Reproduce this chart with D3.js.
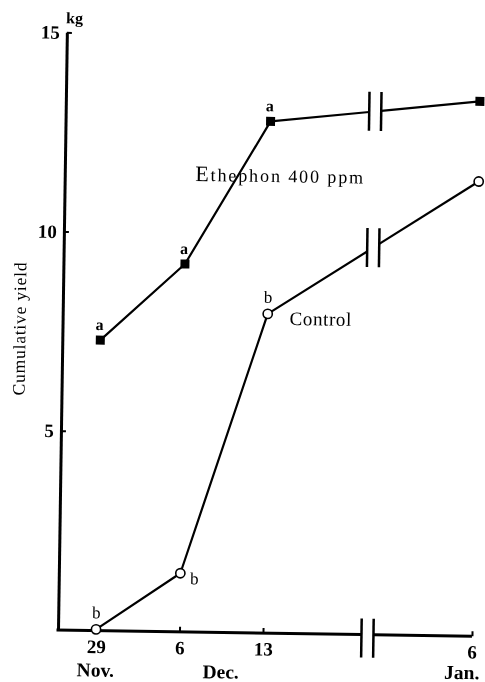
<!DOCTYPE html>
<html>
<head>
<meta charset="utf-8">
<script src="https://cdn.jsdelivr.net/npm/d3@7"></script>
<style>
  html, body { margin: 0; padding: 0; background: #fff; }
  svg { display: block; will-change: transform; }
  text { fill: #000; }
</style>
</head>
<body>
<svg id="chart" width="485" height="682"></svg>
<script>
// ---- data ----
const dates = [new Date(2000, 10, 29), new Date(2000, 11, 6), new Date(2000, 11, 13), new Date(2001, 0, 6)];
const xTickLabels = ["29", "6", "13", "6"];
const monthLabels = ["Nov.", "Dec.", "Jan."];
const ethephon = [7.29, 9.23, 12.84, 13.42];
const control = [0.03, 1.47, 8.01, 11.41];
const ethephonLetters = ["a", "a", "a", ""];
const controlLetters = ["b", "b", "b", ""];
const yTicks = [5, 10, 15];
const breakDate = new Date(2000, 11, 25);
const yTitle = "Cumulative yield";
const yUnit = "kg";
const ethephonName = ["E", "thephon 400 ppm"];
const controlName = "Control";

// ---- layout ----
const svg = d3.select("#chart");
const serif = "'Liberation Serif', 'DejaVu Serif', 'Times New Roman', serif";
// scanned figure is slightly rotated
const g = svg.append("g").attr("transform", "translate(58,630) rotate(0.85)");

const x = d3.scaleTime()
  .domain([dates[0], dates[2], dates[3]])
  .range([38, 205, 414]);
const y = d3.scaleLinear().domain([0, 15]).range([0, -597.75]);

const xb = x(breakDate);
const gap = 6;

// ---- y axis ----
const yAxis = d3.axisLeft(y).tickValues(yTicks).tickSize(-5).tickSizeOuter(0).tickPadding(7)
  .tickFormat(d3.format("d"));
const ya = g.append("g").call(yAxis);
ya.select(".domain").attr("stroke", "#000").attr("stroke-width", 3);
ya.selectAll(".tick line").attr("stroke", "#000").attr("stroke-width", 2);
ya.selectAll(".tick text").attr("font-family", serif).attr("font-weight", "bold")
  .attr("font-size", 19).attr("fill", "#000");

g.append("text").attr("x", -1).attr("y", y(15) - 9)
  .attr("font-family", serif).attr("font-weight", "bold").attr("font-size", 16)
  .text(yUnit);

g.append("text")
  .attr("transform", `translate(-37,${y(7.55)}) rotate(-90)`)
  .attr("text-anchor", "middle")
  .attr("font-family", serif).attr("font-size", 17.5)
  .attr("letter-spacing", 0.8)
  .text(yTitle);

// ---- x axis ----
const xAxis = d3.axisBottom(x).tickValues(dates).tickSize(-5).tickSizeOuter(0).tickPadding(9)
  .tickFormat((d, i) => xTickLabels[i]);
const xa = g.append("g").call(xAxis);
xa.select(".domain").remove();
xa.selectAll(".tick line").attr("stroke", "#000").attr("stroke-width", 2);
xa.selectAll(".tick text").attr("font-family", serif).attr("font-weight", "bold")
  .attr("font-size", 19).attr("fill", "#000");

// broken axis line
g.append("line").attr("x1", -1.5).attr("x2", xb - gap).attr("y1", 0).attr("y2", 0)
  .attr("stroke", "#000").attr("stroke-width", 3);
g.append("line").attr("x1", xb + gap).attr("x2", x(dates[3])).attr("y1", 0).attr("y2", 0)
  .attr("stroke", "#000").attr("stroke-width", 3);
[xb - gap, xb + gap].forEach(bx => {
  g.append("line").attr("x1", bx).attr("x2", bx).attr("y1", -16).attr("y2", 23)
    .attr("stroke", "#000").attr("stroke-width", 2.5);
});

// month labels
const monthX = [x(dates[0]), (x(dates[1]) + x(dates[2])) / 2, x(dates[3]) + 8];
g.selectAll(".month").data(monthLabels).join("text")
  .attr("class", "month")
  .attr("x", (d, i) => monthX[i]).attr("y", (d, i) => i === 2 ? 43 : 46)
  .attr("text-anchor", (d, i) => i === 2 ? "end" : "middle")
  .attr("font-family", serif).attr("font-weight", "bold").attr("font-size", 19.5)
  .text(d => d);

// ---- series ----
function drawSeries(values) {
  const pts = values.map((v, i) => [x(dates[i]), y(v)]);
  const a = pts[2], b = pts[3];
  const lerp = (px) => [px, a[1] + (b[1] - a[1]) * (px - a[0]) / (b[0] - a[0])];
  const p1 = lerp(xb - gap), p2 = lerp(xb + gap), pm = lerp(xb);
  const line = d3.line();
  g.append("path").attr("d", line([pts[0], pts[1], pts[2], p1]))
    .attr("fill", "none").attr("stroke", "#000").attr("stroke-width", 2.2).attr("stroke-linejoin", "round");
  g.append("path").attr("d", line([p2, pts[3]]))
    .attr("fill", "none").attr("stroke", "#000").attr("stroke-width", 2.2);
  [xb - gap, xb + gap].forEach(bx => {
    g.append("line").attr("x1", bx).attr("x2", bx).attr("y1", pm[1] - 19.5).attr("y2", pm[1] + 19.5)
      .attr("stroke", "#000").attr("stroke-width", 2.5);
  });
  return pts;
}

drawSeries(ethephon);
drawSeries(control);

g.selectAll(".emark").data(ethephon).join("rect")
  .attr("class", "emark")
  .attr("x", (d, i) => x(dates[i]) - 4.5).attr("y", d => y(d) - 4.5)
  .attr("width", 9).attr("height", 9).attr("fill", "#000");

g.selectAll(".cmark").data(control).join("circle")
  .attr("class", "cmark")
  .attr("cx", (d, i) => x(dates[i])).attr("cy", d => y(d))
  .attr("r", 4.6).attr("fill", "#fff").attr("stroke", "#000").attr("stroke-width", 1.6);

// significance letters
g.selectAll(".elet").data(ethephonLetters).join("text")
  .attr("class", "elet")
  .attr("x", (d, i) => x(dates[i]) - 1).attr("y", (d, i) => y(ethephon[i]) - 10)
  .attr("text-anchor", "middle")
  .attr("font-family", serif).attr("font-weight", "bold").attr("font-size", 16)
  .text(d => d);

g.selectAll(".clet").data(controlLetters).join("text")
  .attr("class", "clet")
  .attr("x", (d, i) => x(dates[i]) + (i === 1 ? 14 : 0))
  .attr("y", (d, i) => y(control[i]) + (i === 1 ? 11 : -11))
  .attr("text-anchor", "middle")
  .attr("font-family", serif).attr("font-size", 17)
  .text(d => d);

// series names
const et = g.append("text")
  .attr("x", x(dates[1]) + 9).attr("y", y(11.32))
  .attr("font-family", serif).attr("font-size", 18).attr("letter-spacing", 1.9);
et.append("tspan").attr("font-size", 22).text(ethephonName[0]);
et.append("tspan").text(ethephonName[1]);

g.append("text")
  .attr("x", x(dates[2]) + 22).attr("y", y(7.74))
  .attr("font-family", serif).attr("font-size", 19).attr("letter-spacing", 0.6)
  .text(controlName);
</script>
</body>
</html>
